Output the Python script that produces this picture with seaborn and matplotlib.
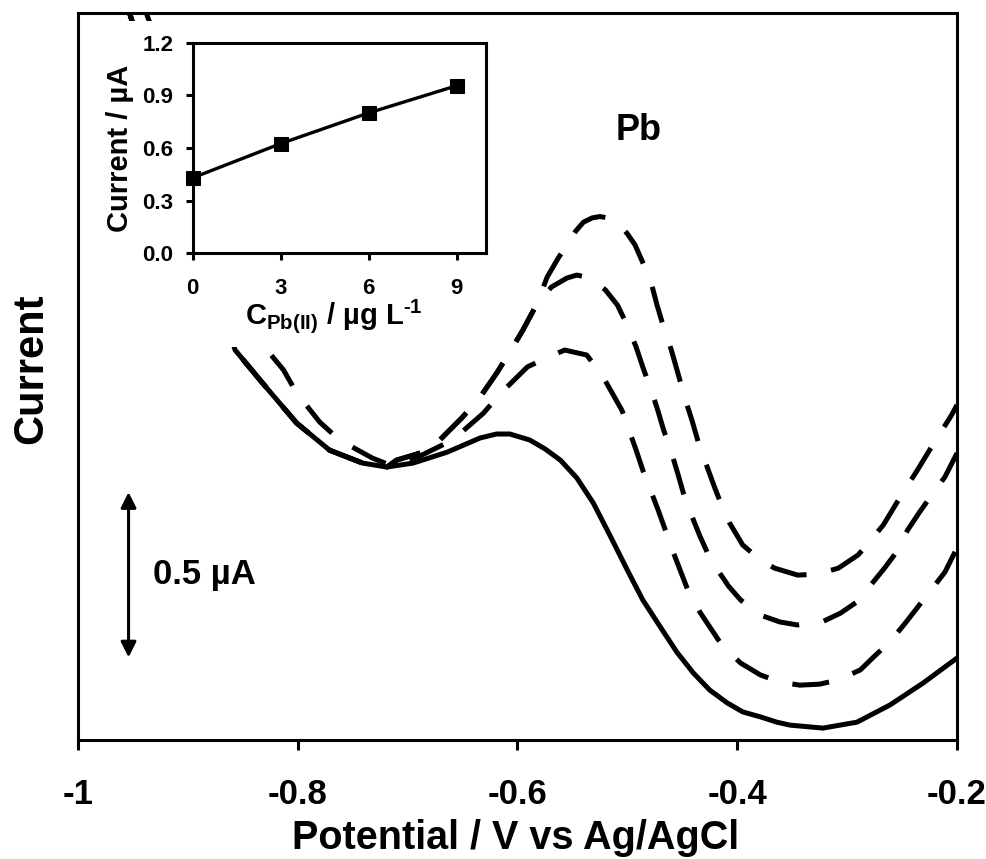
import numpy as np
import pandas as pd
import matplotlib
matplotlib.use("Agg")
import matplotlib.pyplot as plt
import seaborn as sns
from matplotlib.patches import Rectangle

# ---------------- data ----------------
# stripping voltammograms: potential (V vs Ag/AgCl) and current (uA, arbitrary offset)
pot_0 = [-0.955, -0.857, -0.832, -0.801, -0.771, -0.741, -0.719, -0.695, -0.664, -0.634,
         -0.619, -0.607, -0.589, -0.575, -0.561, -0.546, -0.531, -0.516, -0.500, -0.486,
         -0.470, -0.455, -0.440, -0.425, -0.409, -0.395, -0.379, -0.364, -0.352, -0.322,
         -0.291, -0.261, -0.231, -0.200]
cur_0 = [2.22, 1.180, 1.080, 0.959, 0.877, 0.838, 0.826, 0.838, 0.871, 0.914,
         0.926, 0.926, 0.908, 0.881, 0.847, 0.793, 0.717, 0.620, 0.514, 0.424,
         0.342, 0.266, 0.203, 0.151, 0.112, 0.085, 0.070, 0.054, 0.045, 0.036,
         0.054, 0.106, 0.172, 0.248]

pot_3 = [-0.940, -0.828, -0.813, -0.801, -0.780, -0.762, -0.732, -0.716, -0.689, -0.659,
         -0.631, -0.616, -0.591, -0.572, -0.557, -0.537, -0.523, -0.505, -0.492, -0.486,
         -0.472, -0.458, -0.445, -0.434, -0.414, -0.397, -0.379, -0.361, -0.343, -0.325,
         -0.308, -0.288, -0.275, -0.261, -0.247, -0.225, -0.211, -0.200]
cur_3 = [2.22, 1.180, 1.120, 1.050, 0.962, 0.908, 0.853, 0.832, 0.859, 0.908,
         0.989, 1.047, 1.129, 1.159, 1.180, 1.165, 1.104, 0.998, 0.877, 0.817,
         0.696, 0.566, 0.454, 0.387, 0.287, 0.233, 0.197, 0.175, 0.166, 0.169,
         0.182, 0.212, 0.254, 0.297, 0.354, 0.448, 0.508, 0.581]

pot_6 = [-0.955, -0.857, -0.832, -0.801, -0.771, -0.741, -0.719, -0.710, -0.680, -0.650,
         -0.634, -0.619, -0.607, -0.595, -0.582, -0.569, -0.555, -0.546, -0.534, -0.520,
         -0.509, -0.499, -0.492, -0.486, -0.479, -0.473, -0.467, -0.460, -0.454, -0.448,
         -0.441, -0.434, -0.427, -0.419, -0.408, -0.397, -0.379, -0.361, -0.345, -0.323,
         -0.306, -0.291, -0.277, -0.266, -0.255, -0.245, -0.234, -0.225, -0.211, -0.200]
cur_6 = [2.22, 1.180, 1.080, 0.959, 0.877, 0.838, 0.826, 0.847, 0.877, 0.977,
         1.038, 1.110, 1.174, 1.241, 1.322, 1.371, 1.398, 1.407, 1.398, 1.362,
         1.316, 1.247, 1.189, 1.129, 1.065, 1.005, 0.938, 0.871, 0.805, 0.735,
         0.675, 0.617, 0.566, 0.520, 0.466, 0.424, 0.378, 0.357, 0.348, 0.357,
         0.384, 0.418, 0.475, 0.520, 0.569, 0.635, 0.690, 0.732, 0.796, 0.868]

pot_9 = [-0.955, -0.857, -0.832, -0.801, -0.771, -0.741, -0.719, -0.710, -0.680, -0.650,
         -0.634, -0.619, -0.607, -0.595, -0.582, -0.573, -0.563, -0.554, -0.547, -0.540,
         -0.532, -0.525, -0.516, -0.507, -0.500, -0.493, -0.486, -0.479, -0.473, -0.467,
         -0.460, -0.454, -0.448, -0.441, -0.435, -0.428, -0.421, -0.414, -0.407, -0.395,
         -0.379, -0.366, -0.345, -0.327, -0.308, -0.290, -0.279, -0.267, -0.255, -0.236,
         -0.225, -0.205, -0.200]
cur_9 = [2.22, 1.180, 1.080, 0.959, 0.877, 0.838, 0.826, 0.847, 0.877, 0.977,
         1.038, 1.110, 1.174, 1.241, 1.322, 1.401, 1.458, 1.504, 1.540, 1.567,
         1.580, 1.584, 1.579, 1.558, 1.532, 1.498, 1.445, 1.392, 1.316, 1.249,
         1.180, 1.110, 1.038, 0.965, 0.896, 0.832, 0.768, 0.708, 0.657, 0.590,
         0.545, 0.520, 0.499, 0.502, 0.520, 0.560, 0.602, 0.651, 0.717, 0.817,
         0.877, 0.983, 1.014]

# calibration inset
conc = [0, 3, 6, 9]
peak_current = [0.43, 0.625, 0.80, 0.955]

xticks = [-1.0, -0.8, -0.6, -0.4, -0.2]
xtick_labels = ["-1", "-0.8", "-0.6", "-0.4", "-0.2"]
inset_xticks = [0, 3, 6, 9]
inset_yticks = [0.0, 0.3, 0.6, 0.9, 1.2]
inset_ytick_labels = ["0.0", "0.3", "0.6", "0.9", "1.2"]

# ---------------- style ----------------
sns.set_theme(style="ticks")
plt.rcParams["font.family"] = ["Liberation Sans", "DejaVu Sans"]
plt.rcParams["font.weight"] = "bold"
plt.rcParams["axes.labelweight"] = "bold"
plt.rcParams["text.color"] = "black"
plt.rcParams["axes.labelcolor"] = "black"
plt.rcParams["xtick.color"] = "black"
plt.rcParams["ytick.color"] = "black"
plt.rcParams["xtick.labelcolor"] = "black"
plt.rcParams["ytick.labelcolor"] = "black"
plt.rcParams["mathtext.fontset"] = "custom"
plt.rcParams["mathtext.rm"] = "Liberation Sans:bold"
plt.rcParams["mathtext.it"] = "Liberation Sans:bold"
plt.rcParams["mathtext.bf"] = "Liberation Sans:bold"
plt.rcParams["mathtext.default"] = "bf"

INK = "black"
fig = plt.figure(figsize=(9.87, 8.59), dpi=100)
fig.patch.set_facecolor("white")

W, H = 987.0, 859.0
ax = fig.add_axes([78 / W, 1 - 740 / H, (957 - 78) / W, (740 - 13) / H])
ax.set_facecolor("white")

dash = (0, (7.4, 5.0))
curves = [(pot_0, cur_0, "-"), (pot_3, cur_3, dash), (pot_6, cur_6, dash), (pot_9, cur_9, dash)]
for px, cy, ls in curves:
    sns.lineplot(x=px, y=cy, ax=ax, color=INK, lw=3.6, linestyle=ls,
                 sort=False, estimator=None, legend=False)

ax.set_xlim(-1.0, -0.2)
ax.set_ylim(0, 2.2)
ax.set_xticks(xticks)
ax.set_xticklabels(xtick_labels)
ax.set_yticks([])
ax.tick_params(axis="x", direction="out", length=7, width=2.2, color=INK,
               labelcolor=INK, labelsize=25, pad=20)
for s in ax.spines.values():
    s.set_linewidth(2.2)
    s.set_color(INK)
    s.set_visible(True)

ax.set_xlabel("Potential / V vs Ag/AgCl", fontsize=28.5, fontweight="bold", color=INK)
ax.xaxis.set_label_coords(0.498, -0.108)
ax.set_ylabel("Current", fontsize=30, fontweight="bold", color=INK)
ax.yaxis.set_label_coords(-0.031, 0.51)

# white backing behind the inset (hides the curves there)
ax.add_patch(Rectangle((100 / W, 1 - 347 / H), (490 - 100) / W, (347 - 21) / H,
                       transform=fig.transFigure, facecolor="white", edgecolor="none",
                       zorder=5, clip_on=False))

# scale bar
ax.annotate("", xy=(-0.954, 0.25), xytext=(-0.954, 0.75),
            arrowprops=dict(arrowstyle="<|-|>", color=INK, lw=2.2,
                            mutation_scale=23, shrinkA=0, shrinkB=0))
ax.text(-0.932, 0.50, "0.5 µA", fontsize=25, fontweight="bold", ha="left", va="center",
        color=INK)
ax.text(-0.490, 1.843, "Pb", fontsize=26, fontweight="bold", ha="center", va="center",
        color=INK)

# ---------------- inset ----------------
axin = fig.add_axes([192.7 / W, 1 - 253.3 / H, (486 - 192.7) / W, (253.3 - 42.7) / H])
axin.set_facecolor("white")
sns.lineplot(x=conc, y=peak_current, ax=axin, color=INK, lw=2.4, marker="s",
             markersize=10, markeredgecolor=INK, markerfacecolor=INK,
             sort=False, estimator=None, legend=False, clip_on=False)
axin.set_xlim(0, 10)
axin.set_ylim(0, 1.2)
axin.set_xticks(inset_xticks)
axin.set_xticklabels([str(v) for v in inset_xticks])
axin.set_yticks(inset_yticks)
axin.set_yticklabels(inset_ytick_labels)
axin.tick_params(direction="out", length=5, width=2.2, color=INK, labelcolor=INK,
                 labelsize=16)
axin.tick_params(axis="y", pad=9)
axin.tick_params(axis="x", pad=13)
for s in axin.spines.values():
    s.set_linewidth(2.2)
    s.set_color(INK)
    s.set_visible(True)
axin.set_ylabel("Current / µA", fontsize=21, fontweight="bold", color=INK)
axin.yaxis.set_label_coords(-0.20, 0.5)
axin.set_xlabel(r"C$_{Pb(II)}$ / µg L$^{\text{-1}}$", fontsize=21, fontweight="bold",
                color=INK)
axin.xaxis.set_label_coords(0.482, -0.21)

fig.savefig("out.png", dpi=100, facecolor="white")
